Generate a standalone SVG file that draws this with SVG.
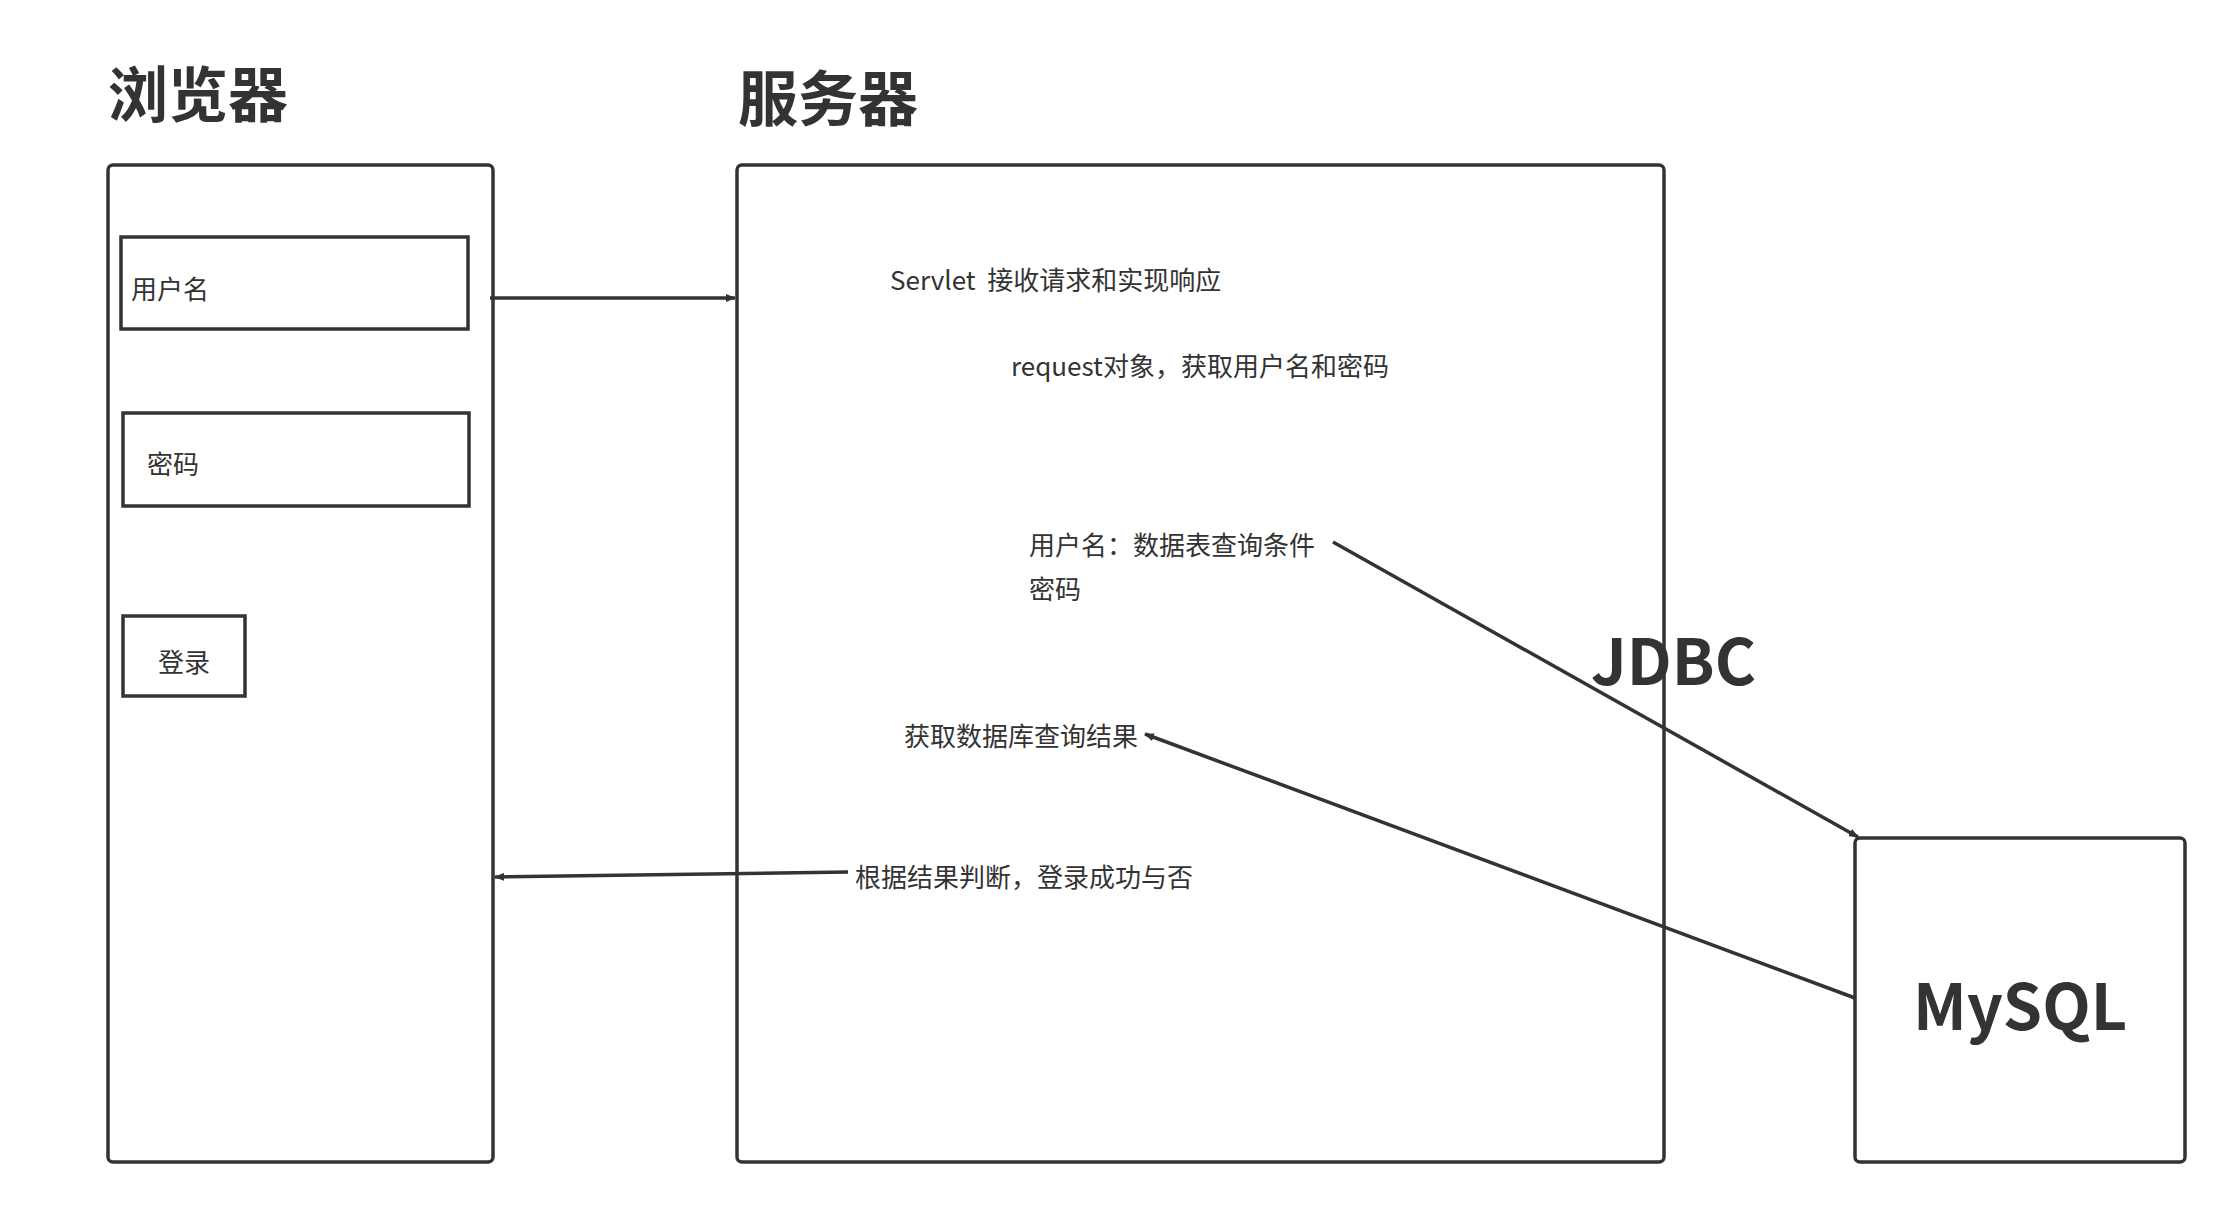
<svg xmlns="http://www.w3.org/2000/svg" width="2224" height="1205" viewBox="0 0 2224 1205">
<defs>
<marker id="ah" markerWidth="10" markerHeight="8" refX="9" refY="4" orient="auto" markerUnits="userSpaceOnUse" viewBox="0 0 10 8">
<path d="M0,0 L10,4 L0,8 Z" fill="#333"/>
</marker>
<style>
.box{fill:#fff;stroke:#333;stroke-width:3.5}
.t{font-family:"Noto Sans CJK SC","Noto Sans",sans-serif;font-size:26px;fill:#333;dominant-baseline:central}
.h{font-family:"Noto Sans CJK SC","Noto Sans",sans-serif;font-size:60px;font-weight:bold;fill:#333}
.c{fill:none;stroke:#333;stroke-width:3.5}
</style>
</defs>
<rect width="2224" height="1205" fill="#fff"/>
<text class="h" x="108" y="117">浏览器</text>
<text class="h" x="738" y="121">服务器</text>
<g id="browser"><rect class="box" x="108" y="165" width="385" height="997" rx="5"/></g>
<g id="username"><rect class="box" x="121" y="237" width="347" height="92"/><text class="t" x="131" y="287">用户名</text></g>
<g id="password"><rect class="box" x="123" y="413" width="346" height="93"/><text class="t" x="147" y="462">密码</text></g>
<g id="login"><rect class="box" x="123" y="616" width="122" height="80"/><text class="t" x="158" y="660">登录</text></g>
<g id="server"><rect class="box" x="737" y="165" width="927" height="997" rx="5"/>
<text class="t" x="890" y="278" xml:space="preserve">Servlet  接收请求和实现响应</text>
<text class="t" x="1011" y="364">request对象，获取用户名和密码</text>
<text class="t" x="1029" y="543">用户名：数据表查询条件</text>
<text class="t" x="1029" y="587">密码</text>
<text class="t" x="904" y="734">获取数据库查询结果</text>
<text class="t" x="855" y="875">根据结果判断，登录成功与否</text>
</g>
<g id="mysql"><rect class="box" x="1855" y="838" width="330" height="324" rx="5"/>
<text class="h" x="2020" y="1002" text-anchor="middle" dominant-baseline="central" style="font-size:63px">MySQL</text></g>
<g id="connectors">
<line class="c" x1="490" y1="298" x2="735" y2="298" marker-end="url(#ah)" style="stroke-width:3.5"/>
<line class="c" x1="1333" y1="542" x2="1858" y2="837" marker-end="url(#ah)"/>
<line class="c" x1="1855" y1="998" x2="1145" y2="734" marker-end="url(#ah)"/>
<line class="c" x1="848" y1="872" x2="495" y2="877" marker-end="url(#ah)"/>
</g>
<text class="h" x="1591" y="657" dominant-baseline="central" style="font-size:63px">JDBC</text>
</svg>
